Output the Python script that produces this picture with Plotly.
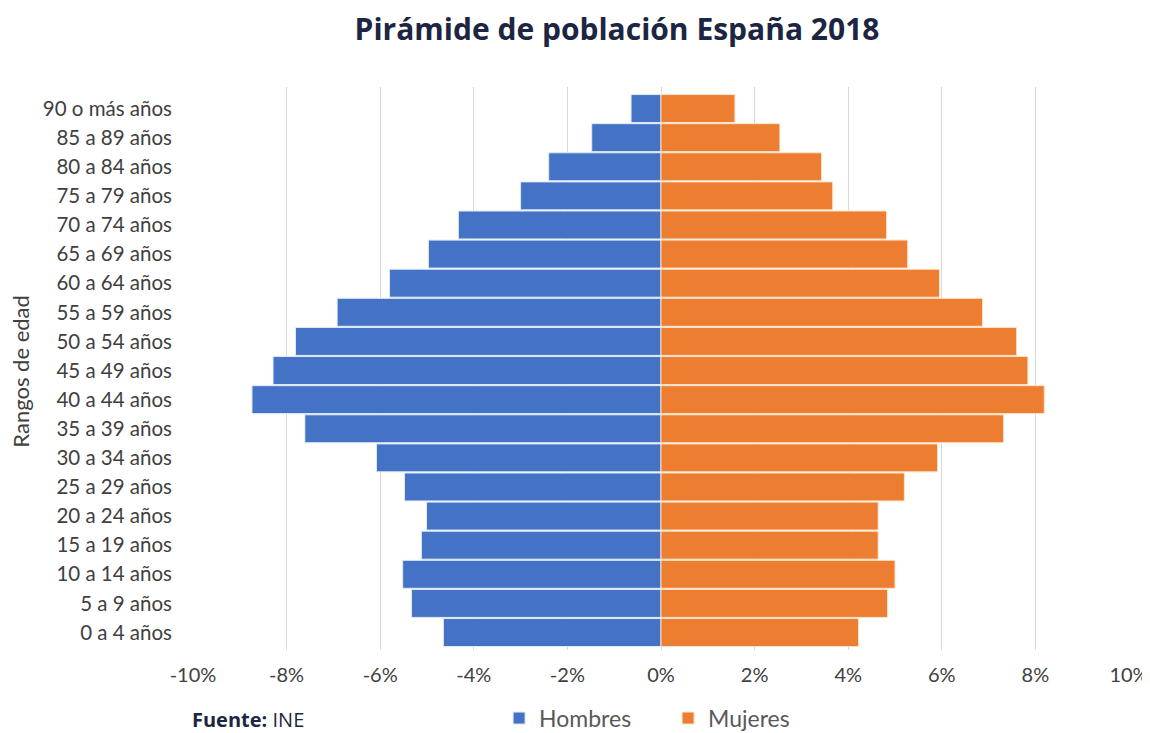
import plotly.graph_objects as go

age_groups = ["0 a 4 años", "5 a 9 años", "10 a 14 años", "15 a 19 años", "20 a 24 años",
              "25 a 29 años", "30 a 34 años", "35 a 39 años", "40 a 44 años", "45 a 49 años",
              "50 a 54 años", "55 a 59 años", "60 a 64 años", "65 a 69 años", "70 a 74 años",
              "75 a 79 años", "80 a 84 años", "85 a 89 años", "90 o más años"]

hombres = [-4.65, -5.33, -5.52, -5.12, -5.01, -5.48, -6.08, -7.61, -8.74, -8.29,
           -7.81, -6.92, -5.80, -4.97, -4.33, -3.00, -2.40, -1.48, -0.64]

mujeres = [4.22, 4.84, 5.00, 4.64, 4.64, 5.20, 5.91, 7.32, 8.19, 7.84,
           7.60, 6.87, 5.95, 5.27, 4.82, 3.67, 3.43, 2.54, 1.58]

x_ticks = [-10, -8, -6, -4, -2, 0, 2, 4, 6, 8, 10]
x_tick_labels = [f"{v}%" for v in x_ticks]

FONT = "Lato"
TEXT = "#404040"
NAVY = "#1c2541"

# page body has an 8px default margin, so the figure is sized to fit the window
W, H = 1142, 725

fig = go.Figure()
fig.add_trace(go.Bar(y=age_groups, x=hombres, orientation="h", name="Hombres",
                     marker=dict(color="#4472C4", line=dict(color="#DDEBF7", width=1))))
fig.add_trace(go.Bar(y=age_groups, x=mujeres, orientation="h", name="Mujeres",
                     marker=dict(color="#ED7D31", line=dict(color="#FCE4C8", width=1))))

fig.update_layout(
    width=W, height=H,
    barmode="overlay", bargap=0.04,
    plot_bgcolor="white", paper_bgcolor="white",
    margin=dict(l=185, r=21, t=79, b=83, autoexpand=False),
    font=dict(family=FONT, color=TEXT, size=19),
    title=dict(text="<b>Pirámide de población España 2018</b>",
               x=609 / W, xanchor="center", y=1 - 21 / H, yanchor="middle",
               font=dict(family="Open Sans", size=30, color=NAVY)),
    xaxis=dict(range=[-10, 10], tickvals=x_ticks, ticktext=x_tick_labels,
               showgrid=True, gridcolor="#d9d9d9", gridwidth=1, zeroline=False,
               showline=False, ticks="", automargin=False, ticklabelstandoff=11,
               tickfont=dict(size=20, color=TEXT)),
    yaxis=dict(categoryorder="array", categoryarray=age_groups, range=[-0.6, 18.74],
               showgrid=False, zeroline=False, showline=False, ticks="",
               automargin=False, ticklabelstandoff=20, tickfont=dict(size=20.5, color=TEXT)),
    legend=dict(orientation="h", x=0.327, xanchor="left", y=-0.121, yanchor="middle",
                font=dict(size=23, color="#595959"), traceorder="normal",
                itemwidth=30, entrywidth=124),
    showlegend=True,
)

fig.add_annotation(text="Rangos de edad", textangle=-90, xref="paper", yref="paper",
                   x=-0.184, y=0.494, xanchor="center", yanchor="middle", showarrow=False,
                   font=dict(size=22, color=TEXT))
fig.add_annotation(text="<b>Fuente:</b> INE", xref="paper", yref="paper",
                   x=-0.003, y=-0.1226, xanchor="left", yanchor="middle", showarrow=False,
                   font=dict(family="Open Sans", size=20, color=NAVY))

fig.write_html("out.html")
